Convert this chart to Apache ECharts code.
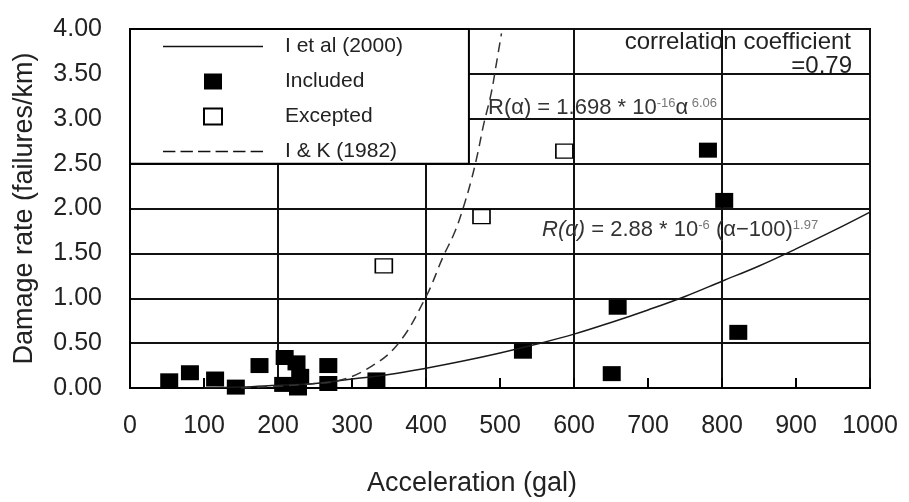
<!DOCTYPE html>
<html>
<head>
<meta charset="utf-8">
<script src="https://cdn.jsdelivr.net/npm/echarts@6/dist/echarts.min.js"></script>
<style>
  html, body { margin: 0; padding: 0; background: #fff; }
  #chart { width: 909px; height: 502px; }
</style>
</head>
<body>
<div id="chart"></div>
<script>
// Pipe damage rate against peak ground acceleration
const FONT = '"Liberation Sans", Arial, Helvetica, sans-serif';

const seriesNames = ['I et al (2000)', 'Included', 'Excepted', 'I & K (1982)'];
const xTitle = 'Acceleration (gal)';
const yTitle = 'Damage rate (failures/km)';

// Observed damage rates (acceleration in gal, rate in failures/km)
const includedAcc  = [53, 81, 115, 143, 175, 209, 225, 230, 207, 227, 268, 268, 333, 531, 651, 659, 822, 781, 803];
const includedRate = [0.08, 0.17, 0.10, 0.01, 0.25, 0.34, 0.28, 0.13, 0.04, 0.00, 0.25, 0.05, 0.09, 0.41, 0.16, 0.90, 0.62, 2.65, 2.09];
const exceptedAcc  = [343, 475, 587];
const exceptedRate = [1.36, 1.91, 2.64];

// Fitted curve, I et al (2000)
const ietalAcc  = [100, 150, 200, 250, 300, 350, 400, 450, 500, 550, 600, 650, 700, 750, 800, 850, 900, 950, 1000];
const ietalRate = [0.00, 0.01, 0.03, 0.05, 0.10, 0.15, 0.22, 0.30, 0.39, 0.49, 0.60, 0.73, 0.87, 1.02, 1.19, 1.36, 1.55, 1.75, 1.96];

// Curve of I & K (1982)
const ikAcc  = [150, 200, 250, 281, 320, 361, 399, 423, 439, 450, 461, 470, 478, 488, 495, 502];
const ikRate = [0.00, 0.02, 0.05, 0.08, 0.21, 0.48, 1.00, 1.46, 1.74, 2.00, 2.31, 2.62, 2.94, 3.28, 3.61, 3.95];

// Legend panel reaches from the top-left corner to this (acceleration, rate) corner
const legendBoxCorner = [458, 2.5];

const corrLines = ['correlation coefficient', '=0.79'];

const pairs = (xs, ys) => xs.map((x, i) => [x, ys[i]]);

// Legend glyphs: plain squares and line samples
const squareIcon = 'path://M0,0h18v16h-18z';
const solidIcon = 'path://M0,0h100v1.6h-100z';
const dashedIcon = 'path://M0,0h12v1.6h-12z M17,0h12v1.6h-12z M34,0h12v1.6h-12z M51,0h12v1.6h-12z M68,0h12v1.6h-12z M85,0h12v1.6h-12z';

const chart = echarts.init(document.getElementById('chart'));

chart.setOption({
  animation: false,
  textStyle: { fontFamily: FONT },
  grid: {
    left: 130, right: 39, top: 29, bottom: 113,
    show: true, borderColor: '#000', borderWidth: 2, backgroundColor: 'transparent'
  },
  xAxis: [
    {
      type: 'value', min: 0, max: 1000, interval: 100, position: 'bottom',
      name: xTitle, nameLocation: 'middle', nameGap: 82,
      nameTextStyle: { fontSize: 27, color: '#222', padding: [0, 56, 0, 0] },
      axisLine: { show: true, lineStyle: { color: '#000', width: 2 } },
      axisTick: { show: true, inside: true, length: 10, lineStyle: { color: '#000', width: 2 } },
      axisLabel: { fontSize: 25, color: '#222', margin: 26, formatter: v => String(v) },
      splitLine: { show: false }
    },
    {
      type: 'value', min: 0, max: 1000, interval: 200, position: 'top',
      axisLine: { show: false }, axisTick: { show: false }, axisLabel: { show: false },
      splitLine: { show: true, lineStyle: { color: '#111', width: 2 } }
    }
  ],
  yAxis: {
    type: 'value', min: 0, max: 4, interval: 0.5,
    name: yTitle, nameLocation: 'middle', nameGap: 92,
    nameTextStyle: { fontSize: 27, color: '#222' },
    axisLine: { show: true, lineStyle: { color: '#000', width: 2 } },
    axisTick: { show: false },
    axisLabel: { fontSize: 25, color: '#222', margin: 28, padding: [0, 0, 12, 0],
                 formatter: v => v.toFixed(2) },
    splitLine: { show: true, lineStyle: { color: '#111', width: 2 } }
  },
  legend: {
    orient: 'vertical', left: 163, top: 36, padding: 0,
    itemWidth: 100, itemHeight: 16, itemGap: 14,
    selectedMode: false, symbolKeepAspect: true, z: 6,
    textStyle: { fontSize: 21, color: '#222', lineHeight: 18, padding: [0, 0, 0, 17] },
    data: [
      { name: seriesNames[0], icon: solidIcon, itemStyle: { color: '#111' } },
      { name: seriesNames[1], icon: squareIcon },
      { name: seriesNames[2], icon: squareIcon },
      { name: seriesNames[3], icon: dashedIcon, itemStyle: { color: '#111' } }
    ]
  },
  series: [
    {
      name: seriesNames[0], type: 'line', data: pairs(ietalAcc, ietalRate),
      smooth: 0.4, symbol: 'none',
      lineStyle: { color: '#1a1a1a', width: 1.5 }, itemStyle: { color: '#1a1a1a' }
    },
    {
      name: seriesNames[3], type: 'line', data: pairs(ikAcc, ikRate),
      smooth: 0.4, symbol: 'none',
      lineStyle: { color: '#333', width: 1.5, type: [10, 6] }, itemStyle: { color: '#333' }
    },
    {
      name: seriesNames[2], type: 'scatter', data: pairs(exceptedAcc, exceptedRate),
      symbol: 'rect', symbolSize: [17, 14],
      itemStyle: { color: '#fff', borderColor: '#000', borderWidth: 1.5, opacity: 1 }
    },
    {
      name: seriesNames[1], type: 'scatter', data: pairs(includedAcc, includedRate),
      symbol: 'rect', symbolSize: [18, 15],
      itemStyle: { color: '#000', opacity: 1 }
    }
  ]
});

// Legend panel, formulas and the correlation note
const topLeft = chart.convertToPixel({ xAxisIndex: 0, yAxisIndex: 0 }, [0, 4]);
const boxCorner = chart.convertToPixel({ xAxisIndex: 0, yAxisIndex: 0 }, legendBoxCorner);

const supStyle = { fontSize: 13, fill: '#777', verticalAlign: 'top', padding: [0, 0, 6, 0], fontFamily: FONT };
const baseStyle = { fontSize: 22, fill: '#333', verticalAlign: 'bottom', fontFamily: FONT };

chart.setOption({
  graphic: [
    {
      type: 'rect', z: 3,
      shape: { x: topLeft[0], y: topLeft[1], width: boxCorner[0] - topLeft[0], height: boxCorner[1] - topLeft[1] },
      style: { fill: '#fff', stroke: '#000', lineWidth: 2 }
    },
    {
      type: 'text', z: 1, x: 851, y: 42,
      style: { text: corrLines[0], font: '24px ' + FONT, fill: '#222', align: 'right', verticalAlign: 'middle' }
    },
    {
      type: 'text', z: 1, x: 852, y: 66,
      style: { text: corrLines[1], font: '24px ' + FONT, fill: '#222', align: 'right', verticalAlign: 'middle' }
    },
    {
      type: 'text', z: 1, x: 488, y: 108,
      style: {
        text: '{b|R(α) = 1.698 * 10}{s|-16}{b|α}{s| 6.06}',
        verticalAlign: 'middle',
        rich: { b: baseStyle, s: supStyle }
      }
    },
    {
      type: 'text', z: 1, x: 542, y: 230,
      style: {
        text: '{i|R(α)}{b| = 2.88 * 10}{s|-6}{b| (α−100)}{s|1.97}',
        verticalAlign: 'middle',
        rich: { b: baseStyle, i: Object.assign({}, baseStyle, { fontStyle: 'italic' }), s: supStyle }
      }
    }
  ]
});
</script>
</body>
</html>
